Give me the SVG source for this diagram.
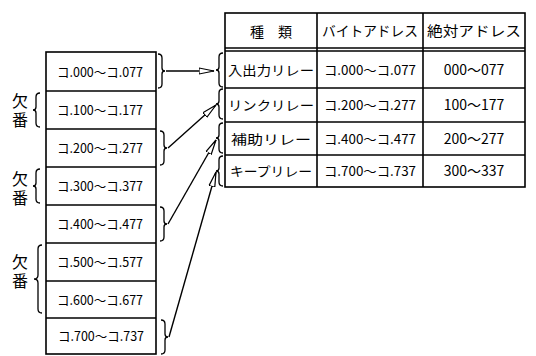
<svg xmlns="http://www.w3.org/2000/svg" width="536" height="356" viewBox="0 0 536 356">
<style>
.box{fill:#fff;stroke:#000;stroke-width:1.6}
.ln{fill:none;stroke:#000;stroke-width:1.6}
.br{fill:none;stroke:#000;stroke-width:1.3}
.t{font-family:"Noto Sans CJK JP","Noto Sans",sans-serif;font-size:13px;fill:#000;text-anchor:middle}
.h{font-family:"Noto Sans CJK JP","Noto Sans",sans-serif;font-size:14px;fill:#000;text-anchor:middle}
.k{font-family:"Noto Sans CJK JP",sans-serif;font-size:16px;fill:#000;text-anchor:middle;writing-mode:vertical-rl;letter-spacing:3px}
.arr{fill:none;stroke:#000;stroke-width:1.4;marker-end:url(#ah)}
</style>
<defs>
<marker id="ah" viewBox="0 0 16 8" refX="15" refY="4" markerWidth="16" markerHeight="8" markerUnits="userSpaceOnUse" orient="auto">
<path d="M0,1 L15,4 L0,7 Z" fill="#fff" stroke="#000" stroke-width="1.2"/>
</marker>
</defs>
<rect width="536" height="356" fill="#fff"/>

<g id="left-list">
<rect class="box" x="46" y="52" width="110" height="302"/>
<line class="ln" x1="46" y1="91" x2="156" y2="91"/>
<line class="ln" x1="46" y1="129" x2="156" y2="129"/>
<line class="ln" x1="46" y1="167" x2="156" y2="167"/>
<line class="ln" x1="46" y1="205" x2="156" y2="205"/>
<line class="ln" x1="46" y1="243" x2="156" y2="243"/>
<line class="ln" x1="46" y1="281" x2="156" y2="281"/>
<line class="ln" x1="46" y1="318" x2="156" y2="318"/>
</g>
<g id="r000"><text class="t" x="100" y="77" textLength="86" lengthAdjust="spacingAndGlyphs">コ.000～コ.077</text></g>
<g id="r100"><text class="t" x="100" y="115" textLength="86" lengthAdjust="spacingAndGlyphs">コ.100～コ.177</text></g>
<g id="r200"><text class="t" x="100" y="153" textLength="86" lengthAdjust="spacingAndGlyphs">コ.200～コ.277</text></g>
<g id="r300"><text class="t" x="100" y="191" textLength="86" lengthAdjust="spacingAndGlyphs">コ.300～コ.377</text></g>
<g id="r400"><text class="t" x="100" y="229" textLength="86" lengthAdjust="spacingAndGlyphs">コ.400～コ.477</text></g>
<g id="r500"><text class="t" x="100" y="267" textLength="86" lengthAdjust="spacingAndGlyphs">コ.500～コ.577</text></g>
<g id="r600"><text class="t" x="100" y="305" textLength="86" lengthAdjust="spacingAndGlyphs">コ.600～コ.677</text></g>
<g id="r700"><text class="t" x="101" y="341" textLength="86" lengthAdjust="spacingAndGlyphs">コ.700～コ.737</text></g>

<g id="missing1">
<text class="k" x="20" y="112">欠番</text>
<path class="br" d="M40,93 q-4,0 -4,4 v10 q0,3 -3,3 q3,0 3,3 v10 q0,4 4,4"/>
</g>
<g id="missing2">
<text class="k" x="20" y="190">欠番</text>
<path class="br" d="M40,169 q-4,0 -4,4 v10 q0,3 -3,3 q3,0 3,3 v10 q0,4 4,4"/>
</g>
<g id="missing3">
<text class="k" x="20" y="273">欠番</text>
<path class="br" d="M42,245 q-4,0 -4,4 v26 q0,4 -4,4 q4,0 4,4 v26 q0,4 4,4"/>
</g>

<g id="table">
<rect class="box" x="225" y="13" width="300" height="174"/>
<line class="ln" x1="225" y1="48" x2="525" y2="48"/>
<line class="ln" x1="225" y1="51" x2="525" y2="51"/>
<line class="ln" x1="225" y1="88" x2="525" y2="88"/>
<line class="ln" x1="225" y1="122" x2="525" y2="122"/>
<line class="ln" x1="225" y1="155" x2="525" y2="155"/>
<line class="ln" x1="317" y1="13" x2="317" y2="187"/>
<line class="ln" x1="423" y1="13" x2="423" y2="187"/>
<text class="h" x="271" y="37">種　類</text>
<text class="h" x="370" y="36" textLength="96" lengthAdjust="spacingAndGlyphs">バイトアドレス</text>
<text class="h" x="474" y="36" textLength="94" lengthAdjust="spacingAndGlyphs">絶対アドレス</text>
<text class="t" x="271" y="75" textLength="86" lengthAdjust="spacingAndGlyphs">入出力リレー</text>
<text class="t" x="370" y="75" textLength="92" lengthAdjust="spacingAndGlyphs">コ.000～コ.077</text>
<text class="h" x="474" y="75">000～077</text>
<text class="t" x="271" y="110" textLength="86" lengthAdjust="spacingAndGlyphs">リンクリレー</text>
<text class="t" x="370" y="110" textLength="92" lengthAdjust="spacingAndGlyphs">コ.200～コ.277</text>
<text class="h" x="474" y="110">100～177</text>
<text class="t" x="271" y="144" textLength="80" lengthAdjust="spacingAndGlyphs">補助リレー</text>
<text class="t" x="370" y="144" textLength="92" lengthAdjust="spacingAndGlyphs">コ.400～コ.477</text>
<text class="h" x="474" y="144">200～277</text>
<text class="t" x="271" y="176" textLength="82" lengthAdjust="spacingAndGlyphs">キープリレー</text>
<text class="t" x="370" y="176" textLength="92" lengthAdjust="spacingAndGlyphs">コ.700～コ.737</text>
<text class="h" x="474" y="176">300～337</text>
</g>

<g id="connectors">
<path class="br" d="M158,54 q4,0 4,4 v10 q0,3 3,3 q-3,0 -3,3 v10 q0,4 -4,4"/>
<path class="br" d="M160,131 q4,0 4,4 v10 q0,3 3,3 q-3,0 -3,3 v10 q0,4 -4,4"/>
<path class="br" d="M160,207 q4,0 4,4 v10 q0,3 3,3 q-3,0 -3,3 v10 q0,4 -4,4"/>
<path class="br" d="M161,320 q4,0 4,4 v10 q0,3 3,3 q-3,0 -3,3 v10 q0,4 -4,4"/>
<path class="br" d="M223,53 q-4,0 -4,4 v10 q0,3 -3,3 q3,0 3,3 v10 q0,4 4,4"/>
<path class="br" d="M223,89 q-4,0 -4,4 v8 q0,3 -3,3 q3,0 3,3 v8 q0,4 4,4"/>
<path class="br" d="M223,123 q-4,0 -4,4 v8 q0,3 -3,3 q3,0 3,3 v8 q0,4 4,4"/>
<path class="br" d="M223,156 q-4,0 -4,4 v8 q0,3 -3,3 q3,0 3,3 v8 q0,4 4,4"/>
<line class="arr" x1="166" y1="71" x2="214" y2="71"/>
<line class="arr" x1="168" y1="148" x2="216" y2="105"/>
<line class="arr" x1="168" y1="224" x2="216" y2="140"/>
<line class="arr" x1="169" y1="337" x2="216" y2="172"/>
</g>
</svg>
